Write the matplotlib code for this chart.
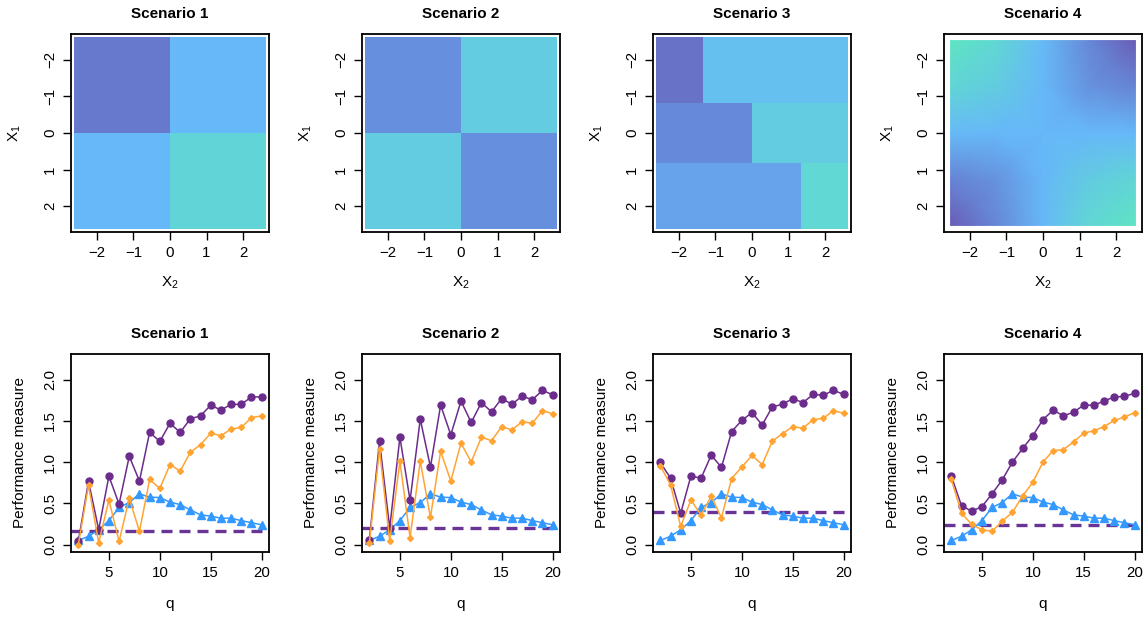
import numpy as np
import matplotlib
matplotlib.use("Agg")
import matplotlib.pyplot as plt
from matplotlib.colors import LinearSegmentedColormap

plt.rcParams['font.family'] = ['Liberation Sans', 'DejaVu Sans']
plt.rcParams['mathtext.fontset'] = 'custom'
plt.rcParams['mathtext.rm'] = 'Liberation Sans'

# ---- data -----------------------------------------------------------------
scenarios = ["Scenario 1", "Scenario 2", "Scenario 3", "Scenario 4"]

# heat maps: cell edges (X2 horizontally, X1 vertically) and block values
s1_x2_edges = [-2.63, 0, 2.63]
s1_x1_edges = [-2.63, 0, 2.63]
s1_values = [[0.17, 0.50],
             [0.50, 0.79]]

s2_x2_edges = [-2.63, 0, 2.63]
s2_x1_edges = [-2.63, 0, 2.63]
s2_values = [[0.28, 0.71],
             [0.71, 0.28]]

s3_x2_edges = [-2.63, -1.33, 0, 1.33, 2.63]
s3_x1_edges = [-2.63, -0.83, 0.83, 2.63]
s3_values = [[0.14, 0.58, 0.58, 0.58],
             [0.25, 0.25, 0.71, 0.71],
             [0.39, 0.39, 0.39, 0.83]]

# scenario 4 is smooth: values read at a 5x5 set of nodes
s4_nodes = [-2.53, -1.25, 0, 1.25, 2.53]
s4_values = [[0.97, 0.82, 0.52, 0.24, 0.04],
             [0.80, 0.70, 0.50, 0.30, 0.22],
             [0.52, 0.50, 0.50, 0.50, 0.50],
             [0.22, 0.30, 0.50, 0.70, 0.80],
             [0.04, 0.24, 0.50, 0.82, 0.96]]

# performance curves
q = list(range(2, 21))

purple_vals = [
    [0.04, 0.765, 0.18, 0.83, 0.49, 1.07, 0.77, 1.36, 1.25, 1.47, 1.36, 1.525,
     1.56, 1.69, 1.63, 1.70, 1.70, 1.79, 1.79],
    [0.055, 1.25, 0.20, 1.30, 0.535, 1.52, 0.94, 1.69, 1.33, 1.74, 1.48, 1.72,
     1.61, 1.77, 1.70, 1.80, 1.755, 1.87, 1.815],
    [0.995, 0.805, 0.38, 0.83, 0.805, 1.085, 0.935, 1.37, 1.505, 1.60, 1.45,
     1.67, 1.70, 1.77, 1.72, 1.82, 1.81, 1.87, 1.82],
    [0.83, 0.47, 0.405, 0.46, 0.615, 0.785, 1.0, 1.165, 1.32, 1.515, 1.63,
     1.56, 1.605, 1.69, 1.69, 1.74, 1.79, 1.795, 1.835],
]

orange_vals = [
    [0.0, 0.72, 0.02, 0.54, 0.04, 0.56, 0.16, 0.79, 0.68, 0.97, 0.89, 1.12,
     1.21, 1.35, 1.32, 1.40, 1.42, 1.54, 1.56],
    [0.02, 1.155, 0.045, 1.01, 0.085, 1.01, 0.33, 1.13, 0.77, 1.23, 1.0, 1.30,
     1.26, 1.43, 1.39, 1.49, 1.47, 1.625, 1.585],
    [0.955, 0.725, 0.22, 0.54, 0.36, 0.585, 0.325, 0.80, 0.94, 1.08, 0.97,
     1.255, 1.345, 1.43, 1.41, 1.515, 1.53, 1.625, 1.59],
    [0.79, 0.38, 0.245, 0.18, 0.16, 0.285, 0.39, 0.59, 0.755, 1.0, 1.14, 1.15,
     1.245, 1.35, 1.38, 1.43, 1.505, 1.545, 1.60],
]

blue_vals = [0.05, 0.10, 0.18, 0.29, 0.45, 0.51, 0.615, 0.575, 0.57, 0.515,
             0.485, 0.42, 0.36, 0.345, 0.32, 0.32, 0.29, 0.265, 0.24]

dashed_level = [0.16, 0.205, 0.40, 0.24]

# ---- styling --------------------------------------------------------------
cmap = LinearSegmentedColormap.from_list(
    "scen", [(0.0, "#6a55b0"), (0.25, "#668ad9"), (0.5, "#66b8f8"),
             (0.75, "#62d0dc"), (1.0, "#5ee8c0")])

PURPLE = "#6b2c8c"
ORANGE = "#ffa433"
BLUE = "#3399ff"
DASH = "#6a3396"

lefts = [71, 362, 653, 944]
W, H = 1148, 617
aw, ah = 198, 198

fig = plt.figure(figsize=(W / 100, H / 100), dpi=100)


def style_axes(ax):
    for s in ax.spines.values():
        s.set_linewidth(1.3)
    ax.tick_params(direction='out', length=6, width=1.0, labelsize=10.8,
                   pad=4)
    ax.tick_params(axis='y', labelrotation=90)
    for lab in ax.get_yticklabels():
        lab.set_va('center')


def add_title(ax, text):
    ax.text(0.5, 1 + 20 / ah, text, transform=ax.transAxes, ha='center',
            va='center', fontsize=11, fontweight='bold')


heat = [(s1_x2_edges, s1_x1_edges, s1_values),
        (s2_x2_edges, s2_x1_edges, s2_values),
        (s3_x2_edges, s3_x1_edges, s3_values)]

# top row: heat maps
for i in range(4):
    ax = fig.add_axes([lefts[i] / W, 1 - (34 + ah) / H, aw / W, ah / H])
    if i < 3:
        xe, ye, v = heat[i]
        ax.pcolormesh(xe, ye, np.array(v), cmap=cmap, vmin=0, vmax=1)
    else:
        ax.pcolormesh(s4_nodes, s4_nodes, np.array(s4_values), cmap=cmap,
                      vmin=0, vmax=1, shading='gouraud')
    ax.set_xlim(-2.71, 2.71)
    ax.set_ylim(2.71, -2.71)
    ax.set_xticks([-2, -1, 0, 1, 2])
    ax.set_yticks([-2, -1, 0, 1, 2])
    style_axes(ax)
    ax.set_xlabel(r'$\mathregular{X_2}$', fontsize=11, va='center')
    ax.set_ylabel(r'$\mathregular{X_1}$', fontsize=11, va='center')
    ax.xaxis.set_label_coords(0.5, -51 / ah)
    ax.yaxis.set_label_coords(-56 / aw, 0.5)
    add_title(ax, scenarios[i])

# bottom row: performance measures
for i in range(4):
    ax = fig.add_axes([lefts[i] / W, 1 - (354 + ah) / H, aw / W, ah / H])
    ax.axhline(dashed_level[i], color=DASH, lw=2.4, ls=(0, (3.3, 2.1)),
               zorder=1)
    ax.plot(q, purple_vals[i], color=PURPLE, lw=1.1, marker='o', ms=5,
            zorder=3)
    ax.plot(q, orange_vals[i], color=ORANGE, lw=1.1, marker='D', ms=3,
            zorder=3)
    ax.plot(q, blue_vals, color=BLUE, lw=1.1, marker='^', ms=6, zorder=2)
    ax.set_xlim(1.28, 20.72)
    ax.set_ylim(-0.09, 2.31)
    ax.set_xticks([5, 10, 15, 20])
    ax.set_yticks([0, 0.5, 1.0, 1.5, 2.0])
    ax.set_yticklabels(["0.0", "0.5", "1.0", "1.5", "2.0"])
    style_axes(ax)
    ax.set_xlabel('q', fontsize=11, va='center')
    ax.set_ylabel('Performance measure', fontsize=11, va='center')
    ax.xaxis.set_label_coords(0.5, -52 / ah)
    ax.yaxis.set_label_coords(-51 / aw, 0.5)
    add_title(ax, scenarios[i])

fig.savefig("out.png", dpi=100)
